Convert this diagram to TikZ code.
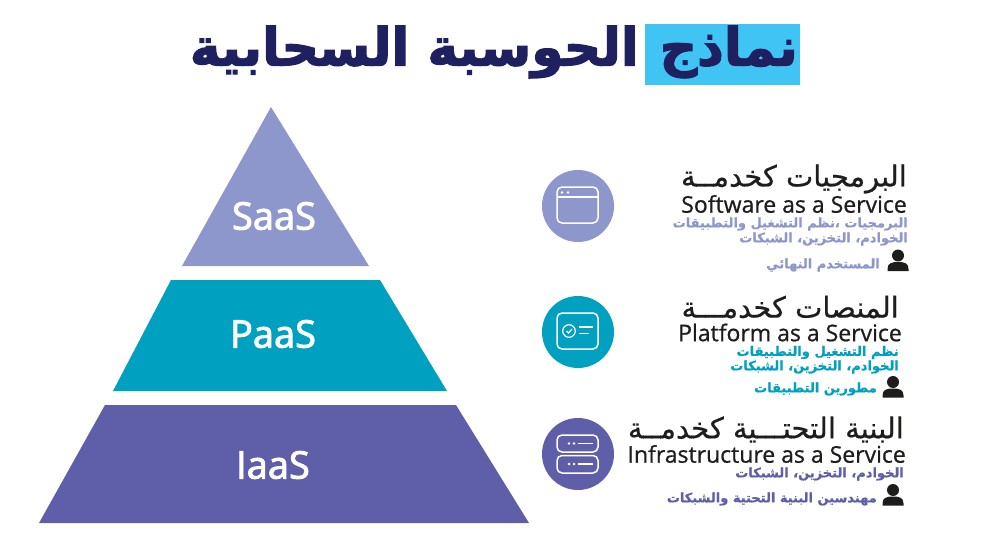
\documentclass[tikz,border=0pt]{standalone}
\usepackage{fontspec}
\setmainfont{Open Sans}
\newfontfamily\labelfont[FakeBold=2.4]{Open Sans}
\newfontfamily\mediumfont[FakeBold=0.8]{Open Sans}
\newfontfamily\arabicfont[Script=Arabic,FakeBold=0.5]{DejaVu Sans}
\newfontfamily\bodyfont[Script=Arabic,BoldFeatures={FakeBold=0.7}]{DejaVu Sans}
\newfontfamily\heavyfont[Script=Arabic,BoldFeatures={FakeBold=2.5}]{DejaVu Sans}
\TeXXeTstate=1
\definecolor{saascol}{HTML}{8E97CB}
\definecolor{paascol}{HTML}{00A1C0}
\definecolor{iaascol}{HTML}{5F5EA8}
\definecolor{titlecol}{HTML}{1F2060}
\definecolor{markcol}{HTML}{40C4F4}
\definecolor{inkcol}{HTML}{1D1D1B}
\newcommand{\artext}[1]{\arabicfont\beginR #1\endR}
\newcommand{\bodytext}[1]{\bodyfont\bfseries\beginR #1\endR}
\newcommand{\heavytext}[1]{\heavyfont\bfseries\beginR #1\endR}
\tikzset{
  titletext/.style={anchor=east, inner sep=0pt, text=titlecol, font=\fontsize{52}{52}\selectfont},
  layerlabel/.style={text=white, font=\labelfont\fontsize{38}{38}\selectfont},
  headar/.style={anchor=east, text=inkcol, inner sep=0pt, font=\fontsize{29}{29}\selectfont},
  headen/.style={anchor=east, text=inkcol, inner sep=0pt, font=\mediumfont\fontsize{23}{23}\selectfont},
  bodyar/.style={anchor=east, inner sep=0pt, font=\fontsize{13}{13}\selectfont},
  glyphline/.style={draw=white, line width=1.5pt, rounded corners=5pt},
  thinline/.style={draw=white, line width=1.2pt},
  usericon/.pic={
    \fill[inkcol] (0,-5.5) circle (6);
    \fill[inkcol] (-10.5,10) -- (-10.5,8) .. controls (-10.5,2) and (-6,1) .. (0,1)
      .. controls (6,1) and (10.5,2) .. (10.5,8) -- (10.5,10) -- cycle;
  }
}
\begin{document}
\begin{tikzpicture}[x=1pt,y=-1pt]
\useasboundingbox (0,0) rectangle (986,551);

% Title
\fill[markcol] (645,24) rectangle (800,85);
\node[titletext] (titlea) at (798,52) {\heavytext{نماذج}};
\node[titletext] (titleb) at (639,52) {\heavytext{الحوسبة السحابية}};

% Pyramid
\fill[saascol] (271,107) -- (369,266) -- (182,266) -- cycle;
\fill[paascol] (171,280) -- (380,280) -- (447,391) -- (113,391) -- cycle;
\fill[iaascol] (105,405) -- (456,405) -- (529,523) -- (39,523) -- cycle;
\node[layerlabel] (saas) at (274,216) {SaaS};
\node[layerlabel] (paas) at (273,334) {PaaS};
\node[layerlabel] (iaas) at (273,465) {IaaS};

% Icon discs
\fill[saascol] (578,206) circle (36);
\fill[paascol] (578,332) circle (36);
\fill[iaascol] (578,454) circle (36);

% Window icon
\draw[glyphline] (557,187) rectangle (598,223);
\draw[thinline] (557,197) -- (598,197);
\fill[white] (562,192.5) circle (1.4) (568,192.5) circle (1.4);

% Card icon
\draw[glyphline] (557,313) rectangle (598,349);
\draw[thinline] (569,331) circle (6.3);
\draw[thinline] (566.5,331) -- (568.5,333) -- (572,329);
\draw[thinline] (579,327) -- (593,327) (579,333.5) -- (589,333.5);

% Server icon
\draw[glyphline] (557,435) rectangle (598,452);
\draw[glyphline] (557,455.5) rectangle (598,473);
\fill[white] (569,443.5) circle (1.4) (574,443.5) circle (1.4) (569,464) circle (1.4) (574,464) circle (1.4);
\draw[thinline] (578,443.5) -- (593,443.5) (578,464) -- (593,464);

% Software block
\node[headar] (saasar) at (907,179) {\artext{البرمجيات كخدمــة}};
\node[headen] (saasen) at (907,204) {Software as a Service};
\node[bodyar, text=saascol] (saasa) at (908,224) {\bodytext{البرمجيات ،نظم التشغيل والتطبيقات}};
\node[bodyar, text=saascol] (saasb) at (908,239) {\bodytext{الخوادم، التخزين، الشبكات}};
\node[bodyar, text=saascol] (saasu) at (880,265) {\bodytext{المستخدم النهائي}};
\pic at (898,261) {usericon};

% Platform block
\node[headar] (paasar) at (899,307) {\artext{المنصات كخدمـــة}};
\node[headen] (paasen) at (902,332.5) {Platform as a Service};
\node[bodyar, text=paascol] (paasa) at (899,352.5) {\bodytext{نظم التشغيل والتطبيقات}};
\node[bodyar, text=paascol] (paasb) at (899,367) {\bodytext{الخوادم، التخزين، الشبكات}};
\node[bodyar, text=paascol] (paasu) at (877,389) {\bodytext{مطورين التطبيقات}};
\pic at (893,387.5) {usericon};

% Infrastructure block
\node[headar] (iaasar) at (904,429.5) {\artext{البنية التحتـــية كخدمــة}};
\node[headen] (iaasen) at (906,454) {Infrastructure as a Service};
\node[bodyar, text=iaascol] (iaasa) at (904,474) {\bodytext{الخوادم، التخزين، الشبكات}};
\node[bodyar, text=iaascol] (iaasu) at (877,499) {\bodytext{مهندسين البنية التحتية والشبكات}};
\pic at (893,495.5) {usericon};

\end{tikzpicture}
\end{document}
